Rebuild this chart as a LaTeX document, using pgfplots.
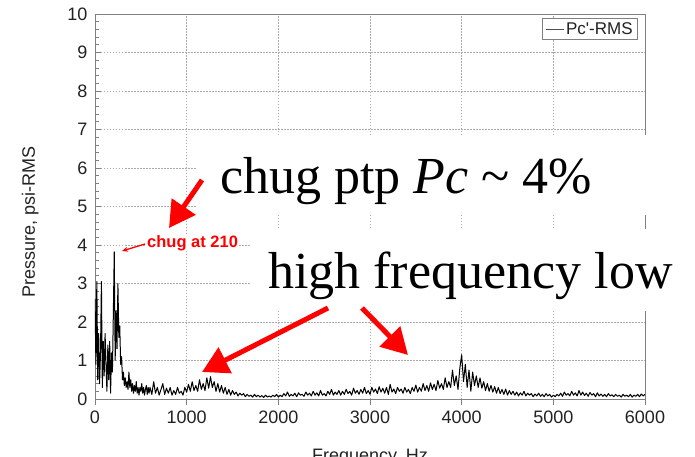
\documentclass[border=0pt]{standalone}
\usepackage{pgfplots}
\usepackage{pgfplotstable}
\pgfplotsset{compat=1.18}
\usetikzlibrary{arrows.meta}
\usepackage{fontspec}
\setmainfont{Liberation Sans}
\newfontfamily\serifbig{Liberation Serif}

\definecolor{axisgray}{RGB}{128,128,128}
\definecolor{gridgray}{RGB}{170,170,170}
\definecolor{labelgray}{RGB}{34,34,34}

% Pc'-RMS amplitude spectrum (Hz, psi-RMS)
\pgfplotstableread{
f p
0 2.60
10 0.90
20 3.05
30 0.50
40 1.70
50 0.40
60 1.20
70 3.05
80 0.30
90 1.50
100 0.60
110 1.70
120 0.90
130 0.20
140 1.40
150 0.50
160 1.50
170 0.15
180 1.20
190 0.70
200 2.20
210 3.82
220 1.00
230 2.30
240 1.30
250 3.00
260 1.60
270 1.90
280 0.90
290 1.10
300 0.50
310 0.70
320 0.35
330 0.55
340 0.30
350 0.45
360 0.25
370 0.70
380 0.30
390 0.50
400 0.20
410 0.40
420 0.15
430 0.35
440 0.20
450 0.45
460 0.15
470 0.30
480 0.10
490 0.30
500 0.20
510 0.40
520 0.15
530 0.30
540 0.10
550 0.25
560 0.35
570 0.12
580 0.30
590 0.15
600 0.30
620 0.12
640 0.45
660 0.15
680 0.30
700 0.10
720 0.25
740 0.40
760 0.12
780 0.28
800 0.15
820 0.30
840 0.10
860 0.22
880 0.12
900 0.30
920 0.15
940 0.20
960 0.10
980 0.30
1000 0.18
1020 0.38
1040 0.20
1060 0.45
1080 0.22
1100 0.35
1120 0.20
1140 0.50
1160 0.25
1180 0.40
1200 0.22
1220 0.55
1240 0.28
1260 0.58
1280 0.30
1300 0.45
1320 0.20
1340 0.40
1360 0.18
1380 0.35
1400 0.15
1420 0.30
1440 0.12
1460 0.25
1480 0.10
1500 0.22
1520 0.12
1540 0.18
1560 0.08
1580 0.15
1600 0.10
1620 0.14
1640 0.06
1660 0.12
1680 0.07
1700 0.10
1720 0.05
1740 0.12
1760 0.06
1780 0.10
1800 0.05
1820 0.09
1840 0.04
1860 0.10
1880 0.05
1900 0.08
1920 0.05
1940 0.10
1960 0.06
1980 0.12
2000 0.05
2020 0.10
2040 0.06
2060 0.14
2080 0.08
2100 0.18
2120 0.07
2140 0.12
2160 0.08
2180 0.15
2200 0.06
2220 0.16
2240 0.10
2260 0.12
2280 0.07
2300 0.18
2320 0.10
2340 0.15
2360 0.08
2380 0.20
2400 0.10
2420 0.16
2440 0.08
2460 0.22
2480 0.10
2500 0.14
2520 0.08
2540 0.20
2560 0.12
2580 0.25
2600 0.10
2620 0.18
2640 0.12
2660 0.22
2680 0.10
2700 0.20
2720 0.12
2740 0.25
2760 0.14
2780 0.20
2800 0.10
2820 0.28
2840 0.15
2860 0.22
2880 0.12
2900 0.25
2920 0.15
2940 0.30
2960 0.14
2980 0.22
3000 0.12
3020 0.30
3040 0.18
3060 0.26
3080 0.14
3100 0.32
3120 0.18
3140 0.28
3160 0.15
3180 0.30
3200 0.12
3220 0.38
3240 0.18
3260 0.26
3280 0.14
3300 0.30
3320 0.20
3340 0.26
3360 0.15
3380 0.30
3400 0.18
3420 0.25
3440 0.14
3460 0.30
3480 0.20
3500 0.36
3520 0.18
3540 0.30
3560 0.20
3580 0.40
3600 0.22
3620 0.35
3640 0.20
3660 0.42
3680 0.25
3700 0.38
3720 0.22
3740 0.48
3760 0.28
3780 0.40
3800 0.25
3820 0.55
3840 0.30
3860 0.45
3880 0.30
3900 0.75
3920 0.35
3940 0.60
3960 0.25
3980 0.80
4000 1.15
4020 0.45
4040 0.90
4060 0.30
4080 0.75
4100 0.20
4120 0.70
4140 0.35
4160 0.60
4180 0.30
4200 0.55
4220 0.28
4240 0.45
4260 0.22
4280 0.40
4300 0.20
4320 0.35
4340 0.18
4360 0.32
4380 0.15
4400 0.30
4420 0.14
4440 0.25
4460 0.12
4480 0.26
4500 0.10
4520 0.22
4540 0.12
4560 0.20
4580 0.10
4600 0.18
4620 0.08
4640 0.16
4660 0.10
4680 0.20
4700 0.08
4720 0.15
4740 0.10
4760 0.14
4780 0.06
4800 0.13
4820 0.08
4840 0.15
4860 0.07
4880 0.12
4900 0.06
4920 0.14
4940 0.08
4960 0.12
4980 0.05
5000 0.10
5020 0.06
5040 0.12
5060 0.08
5080 0.15
5100 0.07
5120 0.18
5140 0.10
5160 0.14
5180 0.08
5200 0.20
5220 0.10
5240 0.16
5260 0.08
5280 0.22
5300 0.10
5320 0.18
5340 0.09
5360 0.15
5380 0.07
5400 0.17
5420 0.10
5440 0.14
5460 0.06
5480 0.16
5500 0.08
5520 0.13
5540 0.07
5560 0.12
5580 0.06
5600 0.14
5620 0.08
5640 0.11
5660 0.06
5680 0.12
5700 0.07
5720 0.10
5740 0.05
5760 0.12
5780 0.07
5800 0.10
5820 0.06
5840 0.12
5860 0.05
5880 0.10
5900 0.07
5920 0.12
5940 0.06
5960 0.13
5980 0.08
6000 0.12
}\spectrum

\begin{document}
\begin{tikzpicture}[x=1pt,y=1pt]
% page frame: the axis box sits 95pt from the left and 57pt from the bottom
\path[use as bounding box] (-95,-57) rectangle (600,399);
\begin{axis}[
  anchor=south west,
  scale only axis, width=550pt, height=385pt,
  xmin=0, xmax=6000, ymin=0, ymax=10,
  xtick={0,1000,...,6000}, ytick={0,1,...,10},
  minor y tick num=4,
  xtick pos=lower, ytick pos=left,
  xtick align=outside, ytick align=inside,
  major tick length=6pt, minor tick length=4pt,
  tick style={axisgray, line width=0.7pt},
  axis line style={axisgray, line width=0.9pt},
  grid=major,
  major grid style={gridgray, line width=0.6pt, dash pattern=on 1.5pt off 1.5pt},
  scaled ticks=false,
  /pgf/number format/assume math mode=true,
  /pgf/number format/1000 sep={},
  ticklabel style={font=\fontsize{18}{20}\selectfont, text=labelgray},
  xticklabel style={yshift=-2pt},
  yticklabel style={xshift=-4pt},
  ylabel={Pressure, psi-RMS},
  xlabel={Frequency, Hz},
  label style={font=\fontsize{18}{20}\selectfont, text=labelgray},
  ylabel style={at={(axis description cs:-0.118,0.46)}, anchor=center},
  xlabel style={at={(axis description cs:0.5,-0.152)}, anchor=center},
  legend style={at={(axis description cs:1,1)}, anchor=north east,
    xshift=-7pt, yshift=-4pt, draw=axisgray, line width=0.8pt,
    font=\fontsize{17}{19}\selectfont, text=labelgray,
    inner xsep=3pt, inner ysep=2pt},
  legend image code/.code={\draw[black!70, line width=0.8pt] (0pt,0pt) -- (18pt,0pt);},
]
\addplot[black, line width=1pt, line join=round] table[x=f, y=p] {\spectrum};
\addlegendentry{Pc\textquotesingle-RMS}
\end{axis}

\begin{scope}[shift={(-95,-57)}]
% white panels behind the large captions
\fill[white] (197,241) rectangle (695,321);
\fill[white] (250,145) rectangle (695,227);

\node[anchor=base west, inner sep=0pt, font=\serifbig\fontsize{52}{56}\selectfont]
  at (220,263) {chug ptp \textit{Pc} \textasciitilde{} 4\%};
\node[anchor=base west, inner sep=0pt, font=\serifbig\fontsize{52}{56}\selectfont]
  at (268,168) {high frequency low};

% small callout for the chug line
\node[anchor=west, fill=white, inner xsep=1pt, inner ysep=0pt, text=red,
  font=\bfseries\fontsize{16.5}{18}\selectfont] at (146,213) {chug at 210};
\draw[red, line width=1.3pt, -{Stealth[length=6pt,width=5pt]}] (145,212) -- (122,205);

% large red arrows
\draw[red, line width=5pt, -{Triangle[length=26pt,width=28pt]}] (202,276) -- (169,228);
\draw[red, line width=5pt, -{Triangle[length=26pt,width=28pt]}] (328,148) -- (202,84);
\draw[red, line width=5pt, -{Triangle[length=26pt,width=28pt]}] (362,148) -- (408,101);
\end{scope}
\end{tikzpicture}
\end{document}
